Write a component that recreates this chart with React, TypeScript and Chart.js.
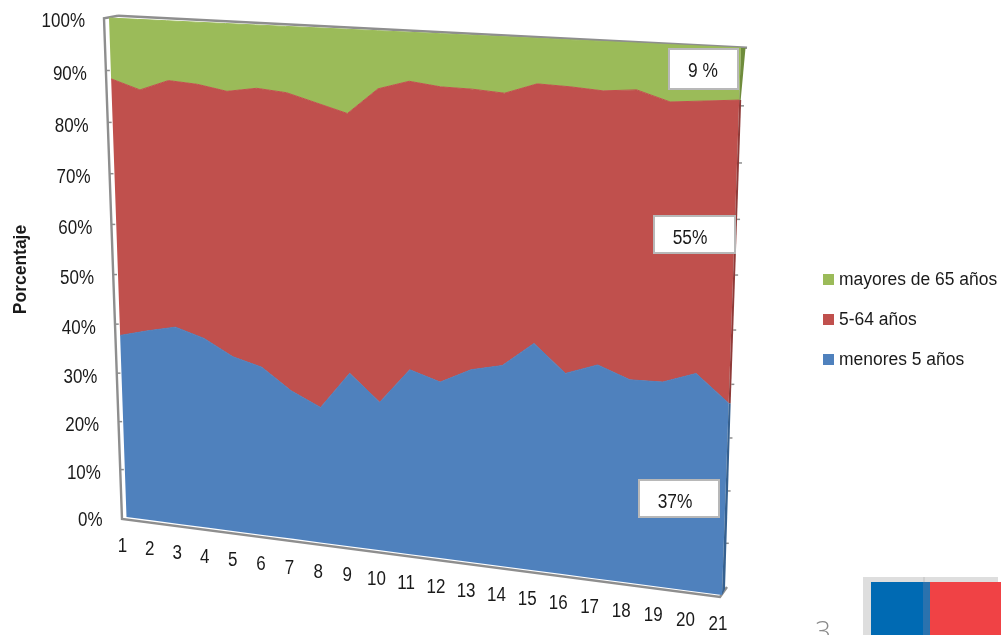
import React, { useEffect, useRef } from "react";
import { Chart, registerables } from "chart.js";

Chart.register(...registerables);

const categories = ["1","2","3","4","5","6","7","8","9","10","11","12","13","14","15","16","17","18","19","20","21"];
const menores5 = [37.7,39.2,40.5,38.8,35.7,34.2,30.1,27.4,34.8,29.7,36.7,34.9,37.9,39.3,44.1,39.0,41.2,39.0,39.2,41.4,36.5];
const de5a64 = [50.7,47.4,48.2,49.5,51.6,54.0,57.6,58.7,49.7,59.7,54.4,55.5,52.4,50.6,47.8,52.7,50.1,52.8,50.8,49.1,54.5];
const mayores65 = [11.6,13.4,11.3,11.7,12.7,11.8,12.3,13.9,15.5,10.6,8.9,9.6,9.7,10.1,8.1,8.3,8.7,8.2,10.0,9.5,9.0];
const seriesNames = ["menores 5 años", "5-64 años", "mayores de 65 años"];
const seriesColors = ["#4f81bd", "#c0504d", "#9bbb59"];
const sideColors = ["#35608f", "#8f3a38", "#6f8c3c"];
const callouts = ["9 %", "55%", "37%"];

const FONT = '"Liberation Sans", Arial, sans-serif';

// Perspective of the plot plane: unit square to the quadrilateral on the page.
const TL = [109, 18], TR = [741, 48], BR = [722, 595], BL = [126.5, 517];
const dx1 = TR[0] - BR[0], dx2 = BL[0] - BR[0], sx = TL[0] - TR[0] + BR[0] - BL[0];
const dy1 = TR[1] - BR[1], dy2 = BL[1] - BR[1], sy = TL[1] - TR[1] + BR[1] - BL[1];
const det = dx1 * dy2 - dx2 * dy1;
const G = (sx * dy2 - dx2 * sy) / det;
const H = (dx1 * sy - sx * dy1) / det;
function project(u: number, v: number): [number, number] {
  const w = 1 + G * u + H * v;
  const x = TL[0] + (TR[0] - TL[0] + G * TR[0]) * u + (BL[0] - TL[0] + H * BL[0]) * v;
  const y = TL[1] + (TR[1] - TL[1] + G * TR[1]) * u + (BL[1] - TL[1] + H * BL[1]) * v;
  return [x / w, y / w];
}

function polygon(ctx: CanvasRenderingContext2D, pts: number[][]) {
  ctx.beginPath();
  pts.forEach((p, i) => (i ? ctx.lineTo(p[0], p[1]) : ctx.moveTo(p[0], p[1])));
  ctx.closePath();
}
function polyline(ctx: CanvasRenderingContext2D, pts: number[][]) {
  ctx.beginPath();
  pts.forEach((p, i) => (i ? ctx.lineTo(p[0], p[1]) : ctx.moveTo(p[0], p[1])));
  ctx.stroke();
}
// Text squeezed horizontally, the way the reference picture stretches it.
function label(ctx: CanvasRenderingContext2D, text: string, x: number, y: number, size: number, sq: number, align: CanvasTextAlign) {
  ctx.save();
  ctx.translate(x, y);
  ctx.scale(sq, 1);
  ctx.font = `${size}px ${FONT}`;
  ctx.textAlign = align;
  ctx.textBaseline = "middle";
  ctx.fillStyle = "#1a1a1a";
  ctx.fillText(text, 0, 0);
  ctx.restore();
}

const perspectivePlugin = {
  id: "perspective",
  afterDatasetsUpdate(chart: any) {
    const ca = chart.chartArea;
    chart.data.datasets.forEach((_: any, di: number) => {
      chart.getDatasetMeta(di).data.forEach((el: any) => {
        const [x, y] = project((el.x - ca.left) / ca.width, (el.y - ca.top) / ca.height);
        el.x = x;
        el.y = y;
      });
    });
  },
  beforeDatasetsDraw(chart: any) {
    const { ctx, chartArea: ca, scales } = chart;
    const vOf = (val: number) => (scales.y.getPixelForValue(val) - ca.top) / ca.height;
    const uOf = (i: number) => (scales.x.getPixelForValue(i) - ca.left) / ca.width;
    ctx.save();
    // walls
    ctx.strokeStyle = "#8e8e8e";
    ctx.lineWidth = 2.4;
    const [blx, bly] = project(0, 1);
    const [brx, bry] = project(1, 1);
    const [tlx, tly] = project(0, 0);
    const [trx, try_] = project(1, 0);
    polyline(ctx, [[tlx + 9, tly - 2.3], [tlx - 5, tly + 0.3], [blx - 4.5, bly + 2], [brx - 2, bry + 2], [brx + 5, bry - 8]]);
    polyline(ctx, [[tlx + 9, tly - 2.3], [trx + 6, try_ - 0.3]]);
    ctx.lineWidth = 1.5;
    scales.y.ticks.forEach((t: any) => {
      if (t.value <= 0 || t.value >= 100) return;
      const v = vOf(t.value);
      const [lx, ly] = project(0, v);
      polyline(ctx, [[lx - 5, ly], [lx - 1, ly]]);
      const [rx, ry] = project(1, v);
      polyline(ctx, [[rx + 2, ry], [rx + 5, ry]]);
    });
    // stacked area bands between neighbouring lines, from the dataset elements
    let lower: number[][] = categories.map((_, i) => project(uOf(i), vOf(0)));
    chart.data.datasets.forEach((ds: any, di: number) => {
      const upper: number[][] = chart.getDatasetMeta(di).data.map((el: any) => [el.x, el.y]);
      ctx.fillStyle = ds.backgroundColor;
      polygon(ctx, [...upper, ...[...lower].reverse()]);
      ctx.fill();
      const a = upper[upper.length - 1];
      const b = lower[lower.length - 1];
      const topOff = di === 2 ? 4.5 : 2;
      const botOff = di === 0 ? 3 : di === 2 ? 1.5 : 2;
      ctx.fillStyle = sideColors[di];
      polygon(ctx, [a, [a[0] + topOff, a[1]], [b[0] + botOff, b[1] - (di === 0 ? 6 : 0)], b]);
      ctx.fill();
      lower = upper;
    });
    ctx.restore();
  },
  afterDatasetsDraw(chart: any) {
    const { ctx, chartArea: ca, scales } = chart;
    ctx.save();
    // y tick labels
    scales.y.ticks.forEach((t: any) => {
      const [x, y] = project(0, (scales.y.getPixelForValue(t.value) - ca.top) / ca.height);
      label(ctx, `${t.value}%`, x - 24, y + 4, 19.5, 0.87, "right");
    });
    // x tick labels
    categories.forEach((c, i) => {
      const [x, y] = project((scales.x.getPixelForValue(i) - ca.left) / ca.width, 1);
      label(ctx, c, x - 4, y + 29.5, 19.5, 0.87, "center");
    });
    // axis title
    ctx.save();
    ctx.translate(21, 269.5);
    ctx.rotate(-Math.PI / 2);
    ctx.scale(0.92, 1);
    ctx.font = `bold 19px ${FONT}`;
    ctx.textAlign = "center";
    ctx.textBaseline = "middle";
    ctx.fillStyle = "#1a1a1a";
    ctx.fillText("Porcentaje", 0, 0);
    ctx.restore();
    // legend, top row first
    [...chart.data.datasets].reverse().forEach((ds: any, i: number) => {
      const y = 280 + i * 40;
      ctx.fillStyle = ds.backgroundColor;
      ctx.fillRect(823, y - 6, 11, 11);
      label(ctx, ds.label, 839, y, 18, 0.97, "left");
    });
    // callouts
    const boxes = [
      [669, 49, 69, 40, 703, 72],
      [654, 216, 81, 37, 690, 239],
      [639, 480, 80, 37, 675, 503],
    ];
    boxes.forEach((b, i) => {
      ctx.fillStyle = "#ffffff";
      ctx.fillRect(b[0], b[1], b[2], b[3]);
      ctx.strokeStyle = "#b8b8b8";
      ctx.lineWidth = 2;
      ctx.strokeRect(b[0], b[1], b[2], b[3]);
      label(ctx, callouts[i], b[4], b[5], 19.5, 0.89, "center");
    });
    // page furniture
    ctx.fillStyle = "#dedede";
    ctx.fillRect(863, 577, 135, 58);
    ctx.fillStyle = "#006ab3";
    ctx.fillRect(871, 582, 59, 53);
    ctx.fillStyle = "#2a72ae";
    ctx.fillRect(923, 582, 7, 53);
    ctx.fillStyle = "#cfcfcf";
    ctx.fillRect(923, 577, 2, 5);
    ctx.fillStyle = "#f04245";
    ctx.fillRect(930, 582, 71, 53);
    ctx.fillStyle = "#8a8a8a";
    ctx.font = `300 28px "Open Sans", ${FONT}`;
    ctx.textAlign = "center";
    ctx.textBaseline = "alphabetic";
    ctx.fillText("3", 823, 641);
    ctx.restore();
  },
};

export default function App() {
  const ref = useRef<HTMLCanvasElement>(null);
  useEffect(() => {
    document.body.style.margin = "0";
    const data = [menores5, de5a64, mayores65];
    const chart = new Chart(ref.current as HTMLCanvasElement, {
      type: "line",
      data: {
        labels: categories,
        datasets: data.map((d, i) => ({
          label: seriesNames[i],
          data: d,
          backgroundColor: seriesColors[i],
          borderColor: seriesColors[i],
          borderWidth: 1,
          pointRadius: 0,
          tension: 0,
          fill: false,
          clip: false,
        })),
      },
      options: {
        animation: false,
        responsive: false,
        scales: {
          x: { display: false, offset: false },
          y: { display: false, stacked: true, min: 0, max: 100, ticks: { stepSize: 10 } },
        },
        plugins: {
          tooltip: { enabled: false },
          title: { display: false },
          legend: { display: false },
        },
      },
      plugins: [perspectivePlugin],
    } as any);
    return () => chart.destroy();
  }, []);
  return (
    <div style={{ position: "fixed", left: 0, top: 0, width: 1001, height: 635, overflow: "hidden", background: "#fff" }}>
      <canvas ref={ref} width={1001} height={635} style={{ display: "block" }} />
    </div>
  );
}
